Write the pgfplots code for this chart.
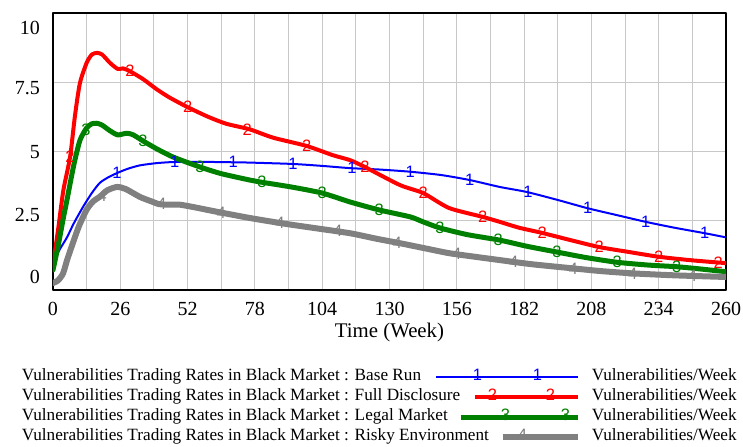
\documentclass[border=0pt]{standalone}
\usepackage{fontspec}
\setmainfont{Liberation Serif}
\newfontfamily\marksans{Liberation Sans}
\usepackage{pgfplots}
\pgfplotsset{compat=1.18}
\definecolor{vgrid}{RGB}{200,200,200}
\definecolor{vgreen}{RGB}{0,128,0}
\definecolor{vgray}{RGB}{128,128,128}
\newcommand{\markfont}{\marksans\fontsize{16.5bp}{16.5bp}\selectfont}
\begin{document}
\begin{tikzpicture}
\begin{axis}[
  name=ax,
  width=673bp, height=277bp, scale only axis,
  xmin=0, xmax=260, ymin=0, ymax=10,
  xtick={0,26,...,260},
  minor xtick={13,39,...,247},
  ytick={0.47,2.71,4.98,7.29,9.45},
  yticklabels={0,2.5,5,7.5,10},
  minor ytick={2.5,5,7.5},
  xmajorgrids=true, xminorgrids=true, ymajorgrids=false, yminorgrids=true,
  major grid style={draw=vgrid, line width=1bp},
  minor grid style={draw=vgrid, line width=1bp},
  major tick length=0pt, minor tick length=0pt,
  axis line style={line width=2.5bp},
  /pgf/number format/assume math mode=true,
  tick label style={font=\fontsize{20bp}{20bp}\selectfont},
  xticklabel style={inner sep=0pt, yshift=-12bp},
  yticklabel style={inner sep=0pt, xshift=-13bp},
  xlabel={Time (Week)},
  xlabel style={font=\fontsize{20.8bp}{20bp}\selectfont, inner sep=0pt, yshift=-7bp},
  legend style={at={(-0.0461,-0.278)}, anchor=north west, draw=none, fill=none,
    inner sep=0pt, outer sep=0pt, row sep=0pt, column sep=11bp,
    font=\fontsize{17.2bp}{20bp}\selectfont,
    nodes={inner xsep=0pt, inner ysep=0pt, text height=13bp, text depth=7bp}},
  legend cell align=left, legend plot pos=right, legend columns=2,
  line join=round, line cap=round,
]
% Base Run
\addplot[blue, line width=2bp, smooth, tension=0.4,
  legend image code/.code={
    \draw[overlay,blue,line width=2bp] (-142bp,0bp) -- (0bp,0bp);
    \node[overlay,blue,font=\markfont,inner sep=0pt] at (-105bp,0bp) {1};
    \node[overlay,blue,font=\markfont,inner sep=0pt] at (-45bp,0bp) {1};
    \path (-75bp,0bp) -- (0bp,0bp);}]
coordinates {(0,1.0) (2.5,1.45) (5.4,1.9) (8,2.4) (11.6,3.0) (15,3.5) (18,3.86) (21,4.05) (24.7,4.22) (29,4.38) (33.6,4.5) (40,4.58) (46.4,4.62) (55,4.63) (63,4.62) (70,4.61) (76,4.6) (92.7,4.55) (104,4.48) (114.7,4.4) (126,4.35) (138,4.27) (150,4.15) (161,3.97) (172.6,3.72) (183,3.54) (195,3.25) (206.6,2.95) (218,2.7) (229,2.46) (240,2.25) (251.8,2.05) (260,1.9)};
\addlegendentry{Vulnerabilities Trading Rates in Black Market : Base Run}
\addlegendimage{legend image code/.code={}}
\addlegendentry{Vulnerabilities/Week}
% Full Disclosure
\addplot[red, line width=4bp, smooth, tension=0.4,
  legend image code/.code={
    \draw[overlay,red,line width=4bp] (-103bp,0bp) -- (0bp,0bp);
    \node[overlay,red,font=\markfont,inner sep=0pt] at (-90bp,0bp) {2};
    \node[overlay,red,font=\markfont,inner sep=0pt] at (-32bp,0bp) {2};
    \path (-75bp,0bp) -- (0bp,0bp);}]
coordinates {(0,0.9) (2,2.2) (4,3.6) (6.6,4.8) (8.5,6.3) (10.4,7.47) (13,8.2) (15,8.5) (17,8.56) (19,8.5) (22,8.2) (25,7.98) (27,8.0) (29.7,7.9) (35,7.6) (40,7.25) (45,6.95) (52,6.6) (60,6.25) (67,6.0) (76,5.8) (85,5.5) (98,5.2) (108,4.87) (114.7,4.69) (120.5,4.44) (134,3.79) (143,3.5) (153,2.96) (166,2.64) (172.6,2.46) (180,2.25) (189,2.06) (200,1.8) (211,1.55) (222,1.38) (234,1.2) (247,1.07) (260,0.97)};
\addlegendentry{Vulnerabilities Trading Rates in Black Market : Full Disclosure}
\addlegendimage{legend image code/.code={}}
\addlegendentry{Vulnerabilities/Week}
% Legal Market
\addplot[vgreen, line width=5bp, smooth, tension=0.4,
  legend image code/.code={
    \draw[overlay,vgreen,line width=5bp] (-117bp,0bp) -- (0bp,0bp);
    \node[overlay,vgreen,font=\markfont,inner sep=0pt] at (-77bp,0bp) {3};
    \node[overlay,vgreen,font=\markfont,inner sep=0pt] at (-17bp,0bp) {3};
    \path (-75bp,0bp) -- (0bp,0bp);}]
coordinates {(0,0.72) (2,1.6) (4,2.6) (5.4,3.25) (8,4.5) (10.4,5.4) (13,5.85) (15,6.0) (17,6.02) (19,5.95) (22,5.75) (25,5.6) (28.5,5.66) (31,5.6) (34.8,5.38) (40,5.1) (46.4,4.8) (56.8,4.44) (65,4.2) (76,3.97) (80,3.9) (92,3.72) (104,3.5) (114.7,3.18) (126,2.89) (138,2.64) (143,2.46) (149.5,2.24) (160,2.0) (172.6,1.8) (183,1.58) (194.7,1.37) (206,1.17) (218,1.0) (230,0.9) (241,0.84) (250,0.76) (260,0.66)};
\addlegendentry{Vulnerabilities Trading Rates in Black Market : Legal Market}
\addlegendimage{legend image code/.code={}}
\addlegendentry{Vulnerabilities/Week}
% Risky Environment
\addplot[vgray, line width=6bp, smooth, tension=0.4,
  legend image code/.code={
    \draw[overlay,vgray,line width=6bp] (-75bp,0bp) -- (0bp,0bp);
    \node[overlay,vgray,font=\markfont,inner sep=0pt] at (-60bp,0bp) {4};
    \path (-75bp,0bp) -- (0bp,0bp);}]
coordinates {(0,0.25) (2,0.35) (3.9,0.6) (5.5,1.1) (7.7,1.7) (10,2.3) (13,2.9) (15.5,3.2) (18,3.36) (21,3.6) (24.7,3.72) (28,3.65) (33.6,3.36) (38,3.2) (41,3.1) (45,3.08) (49,3.08) (55,2.98) (63,2.83) (76,2.6) (89,2.4) (100,2.25) (114.7,2.05) (125,1.85) (134,1.69) (145,1.48) (153,1.33) (163,1.2) (172.6,1.08) (185,0.93) (201,0.78) (212,0.68) (224,0.6) (240,0.53) (260,0.47)};
\addlegendentry{Vulnerabilities Trading Rates in Black Market : Risky Environment}
\addlegendimage{legend image code/.code={}}
\addlegendentry{Vulnerabilities/Week}
% number markers
\addplot[forget plot, only marks, blue, mark=text, text mark={\textcolor{blue}{\markfont 1}}]
coordinates {(24.7,4.22) (47,4.62) (69.6,4.61) (92.7,4.55) (115.5,4.4) (138,4.27) (161,3.97) (183.5,3.54) (206.6,2.95) (229,2.46) (251.8,2.05)};
\addplot[forget plot, only marks, red, mark=text, text mark={\textcolor{red}{\markfont 2}}]
coordinates {(6.6,4.8) (29.7,7.9) (52,6.6) (75,5.8) (98,5.2) (120.5,4.44) (143,3.5) (166,2.64) (189,2.06) (211,1.55) (234,1.2) (257,0.99)};
\addplot[forget plot, only marks, vgreen, mark=text, text mark={\textcolor{vgreen}{\markfont 3}}]
coordinates {(12.7,5.8) (34.8,5.38) (56.8,4.44) (80.7,3.9) (104,3.5) (126,2.89) (149.5,2.24) (172,1.8) (194.7,1.37) (218,1.0) (241,0.84)};
\addplot[forget plot, only marks, vgray, mark=text, text mark={\textcolor{vgray}{\markfont 4}}]
coordinates {(19,3.4) (42,3.1) (65,2.8) (87.7,2.42) (110,2.12) (133,1.71) (156,1.29) (178,1.0) (201,0.78) (224,0.6) (247,0.52)};
\end{axis}
\pgfresetboundingbox
\path ([xshift=-53bp,yshift=-157bp]ax.south west) rectangle ([xshift=17bp,yshift=13bp]ax.north east);
\end{tikzpicture}
\end{document}
